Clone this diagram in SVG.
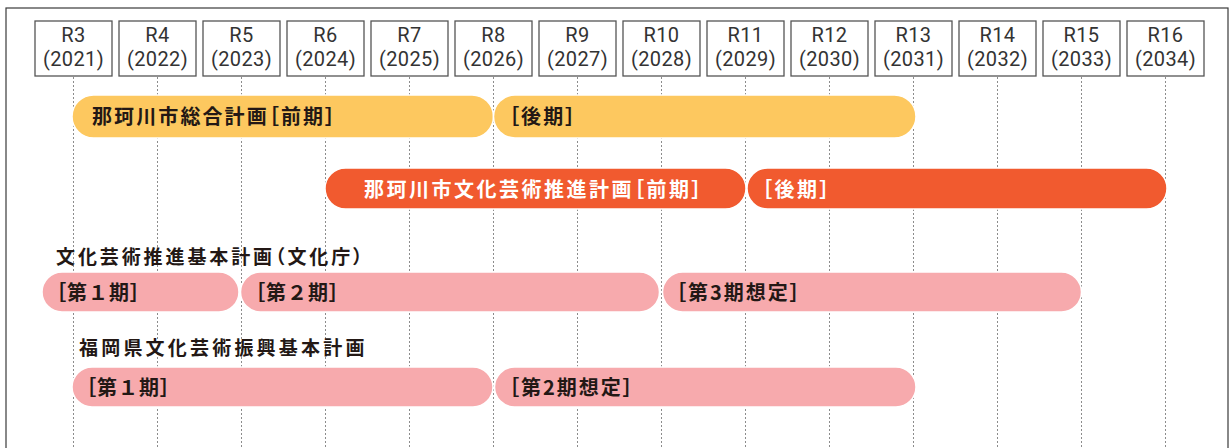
<svg xmlns="http://www.w3.org/2000/svg" width="1229" height="448" viewBox="0 0 1229 448">
<style>
text{font-family:"Noto Sans CJK JP","Noto Sans",sans-serif;font-feature-settings:"palt";}
.hdr{fill:#fff;stroke:#555;stroke-width:1.3}
.ht{font-family:Roboto,"Noto Sans",sans-serif;font-size:20px;fill:#333;text-anchor:middle;letter-spacing:0.4px}
.grid{stroke:#8c8c8c;stroke-width:1;stroke-dasharray:2 2;fill:none}
.y{fill:#FDC85F;stroke:#fff;stroke-width:1.5}
.o{fill:#F15A2F;stroke:#fff;stroke-width:1.5}
.p{fill:#F7AAAD;stroke:#fff;stroke-width:1.5}
.bt{font-size:20px;font-weight:700;fill:#231815;letter-spacing:2.1px}
.wt{font-size:20px;font-weight:700;fill:#fff;letter-spacing:2.5px}
.tt{font-size:19px;font-weight:700;fill:#231815;letter-spacing:2.9px}
.tt2{font-size:19px;font-weight:700;fill:#231815;letter-spacing:3.2px}
.pt{font-size:20px;font-weight:700;fill:#231815;letter-spacing:1px}
.pt2{font-size:20px;font-weight:700;fill:#231815;letter-spacing:2px}
.fw{font-feature-settings:normal}
</style>
<rect x="6" y="8" width="1222" height="460" fill="#fff" stroke="#3a3a3a" stroke-width="1.2"/>
<g id="connectors">
<line class="grid" x1="73.5" y1="77" x2="73.5" y2="448"/>
<line class="grid" x1="157.5" y1="77" x2="157.5" y2="448"/>
<line class="grid" x1="241.5" y1="77" x2="241.5" y2="448"/>
<line class="grid" x1="325.5" y1="77" x2="325.5" y2="448"/>
<line class="grid" x1="409.5" y1="77" x2="409.5" y2="448"/>
<line class="grid" x1="493.5" y1="77" x2="493.5" y2="448"/>
<line class="grid" x1="577.5" y1="77" x2="577.5" y2="448"/>
<line class="grid" x1="661.5" y1="77" x2="661.5" y2="448"/>
<line class="grid" x1="745.5" y1="77" x2="745.5" y2="448"/>
<line class="grid" x1="829.5" y1="77" x2="829.5" y2="448"/>
<line class="grid" x1="913.5" y1="77" x2="913.5" y2="448"/>
<line class="grid" x1="997.5" y1="77" x2="997.5" y2="448"/>
<line class="grid" x1="1081.5" y1="77" x2="1081.5" y2="448"/>
<line class="grid" x1="1165.5" y1="77" x2="1165.5" y2="448"/>
</g>
<g id="year-r3"><rect class="hdr" x="35" y="21" width="77" height="55"/><text class="ht" x="73.5" y="42">R3</text><text class="ht" x="73.5" y="65.5">(2021)</text></g>
<g id="year-r4"><rect class="hdr" x="119" y="21" width="77" height="55"/><text class="ht" x="157.5" y="42">R4</text><text class="ht" x="157.5" y="65.5">(2022)</text></g>
<g id="year-r5"><rect class="hdr" x="203" y="21" width="77" height="55"/><text class="ht" x="241.5" y="42">R5</text><text class="ht" x="241.5" y="65.5">(2023)</text></g>
<g id="year-r6"><rect class="hdr" x="287" y="21" width="77" height="55"/><text class="ht" x="325.5" y="42">R6</text><text class="ht" x="325.5" y="65.5">(2024)</text></g>
<g id="year-r7"><rect class="hdr" x="371" y="21" width="77" height="55"/><text class="ht" x="409.5" y="42">R7</text><text class="ht" x="409.5" y="65.5">(2025)</text></g>
<g id="year-r8"><rect class="hdr" x="455" y="21" width="77" height="55"/><text class="ht" x="493.5" y="42">R8</text><text class="ht" x="493.5" y="65.5">(2026)</text></g>
<g id="year-r9"><rect class="hdr" x="539" y="21" width="77" height="55"/><text class="ht" x="577.5" y="42">R9</text><text class="ht" x="577.5" y="65.5">(2027)</text></g>
<g id="year-r10"><rect class="hdr" x="623" y="21" width="77" height="55"/><text class="ht" x="661.5" y="42">R10</text><text class="ht" x="661.5" y="65.5">(2028)</text></g>
<g id="year-r11"><rect class="hdr" x="707" y="21" width="77" height="55"/><text class="ht" x="745.5" y="42">R11</text><text class="ht" x="745.5" y="65.5">(2029)</text></g>
<g id="year-r12"><rect class="hdr" x="791" y="21" width="77" height="55"/><text class="ht" x="829.5" y="42">R12</text><text class="ht" x="829.5" y="65.5">(2030)</text></g>
<g id="year-r13"><rect class="hdr" x="875" y="21" width="77" height="55"/><text class="ht" x="913.5" y="42">R13</text><text class="ht" x="913.5" y="65.5">(2031)</text></g>
<g id="year-r14"><rect class="hdr" x="959" y="21" width="77" height="55"/><text class="ht" x="997.5" y="42">R14</text><text class="ht" x="997.5" y="65.5">(2032)</text></g>
<g id="year-r15"><rect class="hdr" x="1043" y="21" width="77" height="55"/><text class="ht" x="1081.5" y="42">R15</text><text class="ht" x="1081.5" y="65.5">(2033)</text></g>
<g id="year-r16"><rect class="hdr" x="1127" y="21" width="77" height="55"/><text class="ht" x="1165.5" y="42">R16</text><text class="ht" x="1165.5" y="65.5">(2034)</text></g>

<g id="city-plan-early"><rect class="y" x="72" y="95" width="421.5" height="43" rx="21.5"/><text class="bt" x="92" y="124">那珂川市総合計画［前期］</text></g>
<g id="city-plan-late"><rect class="y" x="493.5" y="95" width="422.5" height="43" rx="21.5"/><text class="bt" x="509" y="124">［後期］</text></g>

<g id="culture-plan-early"><rect class="o" x="325" y="168" width="421" height="41" rx="20.5"/><text class="wt" x="364" y="197">那珂川市文化芸術推進計画［前期］</text></g>
<g id="culture-plan-late"><rect class="o" x="747" y="168" width="420" height="41" rx="20.5"/><text class="wt" x="762" y="197">［後期］</text></g>

<g id="national-title"><text class="tt" x="56" y="264">文化芸術推進基本計画（文化庁）</text></g>
<g id="national-1"><rect class="p" x="42" y="272" width="197" height="40" rx="20"/><text class="pt" x="56" y="300">［第<tspan class="fw">１</tspan>期］</text></g>
<g id="national-2"><rect class="p" x="240.5" y="272" width="419" height="40" rx="20"/><text class="pt" x="255" y="300">［第<tspan class="fw">２</tspan>期］</text></g>
<g id="national-3"><rect class="p" x="662.5" y="272" width="419" height="40" rx="20"/><text class="pt2" x="676" y="300">［第3期想定］</text></g>

<g id="pref-title"><text class="tt2" x="79" y="355">福岡県文化芸術振興基本計画</text></g>
<g id="pref-1"><rect class="p" x="72" y="367" width="421" height="40" rx="20"/><text class="pt" x="86" y="395">［第<tspan class="fw">１</tspan>期］</text></g>
<g id="pref-2"><rect class="p" x="494.5" y="367" width="421.5" height="40" rx="20"/><text class="pt2" x="509" y="395">［第2期想定］</text></g>
</svg>
